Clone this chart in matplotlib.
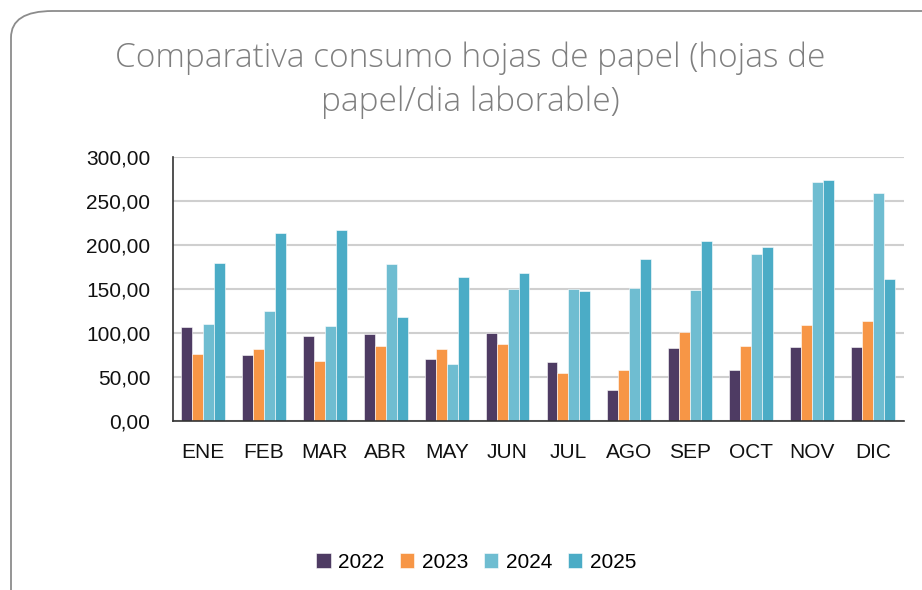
import numpy as np
import matplotlib.pyplot as plt
from matplotlib.patches import FancyBboxPatch
from matplotlib.ticker import FuncFormatter

meses = ['ENE', 'FEB', 'MAR', 'ABR', 'MAY', 'JUN', 'JUL', 'AGO', 'SEP', 'OCT', 'NOV', 'DIC']
anios = ['2022', '2023', '2024', '2025']
v2022 = [106.4, 74.8, 96.9, 98.8, 69.9, 100.3, 67.6, 35.3, 82.4, 57.4, 83.6, 84.3]
v2023 = [75.6, 82.1, 68.4, 85.1, 81.3, 87.8, 54.0, 57.8, 101.1, 84.7, 109.0, 113.6]
v2024 = [110.2, 124.6, 107.9, 178.6, 65.3, 150.1, 150.5, 151.6, 149.3, 189.6, 271.7, 259.5]
v2025 = [180.1, 213.5, 217.3, 118.2, 164.1, 167.9, 148.2, 184.6, 204.0, 197.2, 274.3, 161.5]
colores = ['#4E3B63', '#F79646', '#6FBDD1', '#4BACC6']

plt.rcParams['font.family'] = ['Liberation Sans', 'DejaVu Sans']

fig = plt.figure(figsize=(9.22, 5.9), dpi=100)

# marco redondeado del grafico
marco = FancyBboxPatch((11 / 922, -0.1), 1.1, 1.1 - 11 / 590,
                       boxstyle='round,pad=0,rounding_size=0.045',
                       transform=fig.transFigure, facecolor='white',
                       edgecolor='#8C8C8C', linewidth=1.3, zorder=-10)
fig.patches.append(marco)

ax = fig.add_axes([172.5 / 922, 1 - 421 / 590, (903.5 - 172.5) / 922, (421 - 157) / 590])
ax.set_facecolor('none')

x = np.arange(len(meses))
ancho = 0.18
series = [v2022, v2023, v2024, v2025]
for i, (serie, color, anio) in enumerate(zip(series, colores, anios)):
    ax.bar(x + (i - 1.5) * ancho, serie, ancho, color=color, label=anio,
           edgecolor='white', linewidth=0.4, zorder=3)

ax.set_xlim(-0.5, len(meses) - 0.5)
ax.set_ylim(0, 300)
ax.set_yticks(np.arange(0, 301, 50))
ax.yaxis.set_major_formatter(FuncFormatter(lambda v, p: f'{v:.2f}'.replace('.', ',')))
ax.set_xticks(x)
ax.set_xticklabels(meses)
ax.tick_params(axis='both', length=0, labelsize=15, colors='#111111')
ax.tick_params(axis='x', pad=15.5)
ax.tick_params(axis='y', pad=16)
ax.grid(axis='y', color='#CFCFCF', linewidth=1.5, zorder=0)
for lado in ['top', 'right']:
    ax.spines[lado].set_visible(False)
for lado in ['left', 'bottom']:
    ax.spines[lado].set_color('#333333')
    ax.spines[lado].set_linewidth(1.2)
    ax.spines[lado].set_zorder(5)

fig.text(470 / 922, 1 - 80 / 590, 'Comparativa consumo hojas de papel (hojas de\npapel/dia laborable)',
         ha='center', va='center', fontsize=24, color='#7F7F7F', linespacing=1.4,
         family=['Open Sans', 'DejaVu Sans'], fontweight='light')

fig.legend(loc='center', bbox_to_anchor=(476 / 922, 1 - 562 / 590), ncol=4, frameon=False,
           fontsize=15, handlelength=0.7, handleheight=0.7, handletextpad=0.35,
           columnspacing=0.75)

fig.savefig('out.png', dpi=100)
